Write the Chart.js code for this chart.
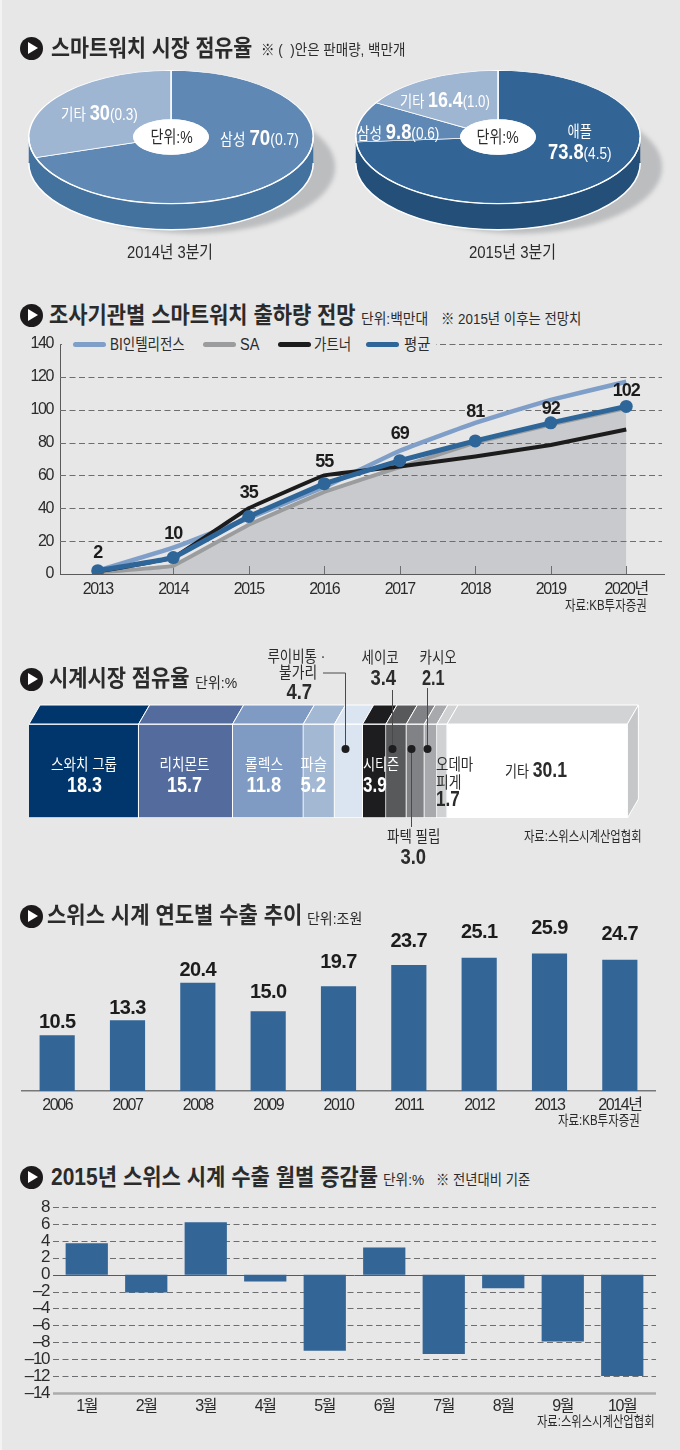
<!DOCTYPE html>
<html lang="ko">
<head>
<meta charset="utf-8">
<title>스마트워치 · 시계 시장</title>
<script src="https://cdn.jsdelivr.net/npm/chart.js@4/dist/chart.umd.min.js"></script>
<style>
html, body { margin: 0; padding: 0; background: #e7e7e7; }
#page { position: relative; width: 680px; height: 1450px; overflow: hidden; background: #e7e7e7; }
#page canvas { position: absolute; }
.txt { position: absolute; white-space: nowrap; line-height: 1; color: #2b2b2b;
       font-family: "Liberation Sans", "Noto Sans CJK KR", sans-serif; }
.icon { position: absolute; width: 23px; height: 23px; border-radius: 50%; background: #1c1a1b; }
.icon:after { content: ""; position: absolute; left: 8px; top: 5px; border-left: 10px solid #fff;
              border-top: 6.5px solid transparent; border-bottom: 6.5px solid transparent; }
.swatch { position: absolute; height: 5px; width: 33px; border-radius: 3px; }
</style>
</head>
<body>
<div id="page">
  <div style="position:absolute;left:0;top:0;width:2px;height:1450px;background:#f3f3f3"></div>
  <canvas id="pie14" width="340" height="300" style="left:21px;top:-13px"></canvas>
  <canvas id="pie15" width="340" height="300" style="left:348px;top:-13px"></canvas>
  <canvas id="lineChart" width="680" height="270" style="left:0;top:330px"></canvas>
  <canvas id="shareChart" width="680" height="200" style="left:0;top:650px"></canvas>
  <canvas id="exportChart" width="680" height="215" style="left:0;top:900px"></canvas>
  <canvas id="monthChart" width="680" height="220" style="left:0;top:1195px"></canvas>
</div>
<script>
// pie charts
var pie14Names = ['삼성', '기타'];
var pie14Share = [70, 30];
var pie14Sales = [0.7, 0.3];
var pie15Names = ['애플', '삼성', '기타'];
var pie15Share = [73.8, 9.8, 16.4];
var pie15Sales = [4.5, 0.6, 1.0];

// smartwatch shipments
var lineYears = ['2013', '2014', '2015', '2016', '2017', '2018', '2019', '2020년'];
var lineNames = ['BI인텔리전스', 'SA', '가트너', '평균'];
var lineBI = [2, 16, 34, 53, 75, 92, 106, 117];
var lineSA = [1, 5, 30, 50, 65, 80, 91, 101];
var lineGartner = [1.5, 10, 40, 60, 65.5, 71.5, 78.5, 88];
var lineAvg = [2, 10, 35, 55, 69, 81, 92, 102];

// watch market share
var shareNames = ['스와치 그룹', '리치몬트', '롤렉스', '파슬', '루이비통·불가리', '시티즌', '세이코', '파텍 필립', '카시오', '오데마 피게', '기타'];
var shareValues = [18.3, 15.7, 11.8, 5.2, 4.7, 3.9, 3.4, 3.0, 2.1, 1.7, 30.1];

// swiss export by year
var exportYears = ['2006', '2007', '2008', '2009', '2010', '2011', '2012', '2013', '2014년'];
var exportValues = [10.5, 13.3, 20.4, 15.0, 19.7, 23.7, 25.1, 25.9, 24.7];

// swiss export change by month
var monthNames = ['1월', '2월', '3월', '4월', '5월', '6월', '7월', '8월', '9월', '10월'];
var monthValues = [3.7, -2.1, 6.2, -0.8, -9.0, 3.2, -9.4, -1.6, -7.9, -12.0];

var page = document.getElementById('page');
var tickFamily = '"Liberation Sans", "Noto Sans CJK KR", sans-serif';
var barBlue = '#336597';
var tickColor = '#2b2b2b';

Chart.defaults.animation = false;
Chart.defaults.responsive = false;
Chart.defaults.devicePixelRatio = 1;
Chart.defaults.plugins.legend.display = false;
Chart.defaults.plugins.tooltip.enabled = false;

// opts: w = width to squeeze the text into, align, bold, color
function putText(html, x, y, size, opts) {
    opts = opts || {};
    var el = document.createElement('div');
    el.className = 'txt';
    el.innerHTML = html;
    el.style.fontSize = size + 'px';
    if (opts.bold) el.style.fontWeight = '700';
    if (opts.color) el.style.color = opts.color;
    page.appendChild(el);
    var realW = el.offsetWidth;
    var align = opts.align || 'left';
    var left = x;
    if (align == 'center') left = x - realW / 2;
    if (align == 'right') left = x - realW;
    el.style.left = left + 'px';
    el.style.top = y + 'px';
    el.style.transformOrigin = align + ' center';
    var sx = opts.w ? opts.w / realW : 1;
    el.style.transform = 'translateY(-50%) scaleX(' + sx + ')';
    return el;
}

function putIcon(cx, cy) {
    var el = document.createElement('div');
    el.className = 'icon';
    el.style.left = (cx - 11.5) + 'px';
    el.style.top = (cy - 11.5) + 'px';
    page.appendChild(el);
}

function big(v) { return '<b style="font-size:1.35em">' + v + '</b>'; }

// ---------- 3D pies ----------
function pie3d(sideColor) {
    var squash = 0.4685, depth = 26;
    return {
        id: 'pie3d',
        beforeDatasetsDraw: function (chart) {
            var arc = chart.getDatasetMeta(0).data[0];
            var ctx = chart.ctx, cx = arc.x, cy = arc.y, R = arc.outerRadius, ry = R * squash;
            ctx.save();
            ctx.filter = 'blur(2px)';
            ctx.fillStyle = '#bcbdbf';
            ctx.beginPath();
            ctx.ellipse(cx + 22, cy + 30, R, ry, 0, 0, Math.PI * 2);
            ctx.fill();
            ctx.restore();
            ctx.fillStyle = sideColor;
            ctx.beginPath();
            ctx.ellipse(cx, cy + depth, R, ry, 0, 0, Math.PI * 2);
            ctx.fill();
            ctx.fillRect(cx - R, cy, R * 2, depth);
            ctx.strokeStyle = '#fff';
            ctx.lineWidth = 1.5;
            ctx.beginPath();
            ctx.ellipse(cx, cy + depth, R, ry, 0, 0, Math.PI);
            ctx.stroke();
            ctx.save();
            ctx.translate(cx, cy);
            ctx.scale(1, squash);
            ctx.translate(-cx, -cy);
        },
        afterDatasetsDraw: function (chart) {
            var arc = chart.getDatasetMeta(0).data[0];
            var ctx = chart.ctx;
            ctx.fillStyle = '#fff';
            ctx.beginPath();
            ctx.arc(arc.x, arc.y, arc.innerRadius + 1, 0, Math.PI * 2);
            ctx.fill();
            ctx.restore();
            ctx.strokeStyle = '#fff';
            ctx.lineWidth = 1.3;
            ctx.beginPath();
            ctx.ellipse(arc.x, arc.y, arc.outerRadius, arc.outerRadius * squash, 0, 0, Math.PI);
            ctx.stroke();
        }
    };
}

function makePie(id, names, values, colors, sideColor) {
    new Chart(document.getElementById(id), {
        type: 'doughnut',
        data: { labels: names, datasets: [{ data: values, backgroundColor: colors, borderColor: '#fff', borderWidth: 1.5, clip: false }] },
        options: { cutout: '26%', layout: { padding: { left: 7, right: 47, top: 7, bottom: 7 } } },
        plugins: [pie3d(sideColor)]
    });
}
makePie('pie14', pie14Names, pie14Share, ['#5f88b4', '#9fb6d3'], '#43729f');
makePie('pie15', pie15Names, pie15Share, ['#326596', '#5f88b4', '#9fb6d3'], '#234f78');

// ---------- helpers for the axis charts ----------
// the original axis font is condensed, tighten the tick text the library draws
var tightTicks = {
    id: 'tightTicks',
    beforeDraw: function (chart) { chart.ctx.letterSpacing = '-1.4px'; }
};

// fixed axis width, and no extra room for the half height of the end labels
function fixedYAxis(width) {
    return function (s) {
        s.width = width;
        s.paddingTop = 0;
        s.paddingBottom = 0;
    };
}

function dashGrid(x0, x1, heavyValue) {
    return {
        id: 'dashGrid',
        beforeDatasetsDraw: function (chart) {
            var ctx = chart.ctx, yScale = chart.scales.y;
            ctx.save();
            yScale.ticks.forEach(function (t) {
                var y = Math.round(yScale.getPixelForValue(t.value)) + 0.5;
                ctx.beginPath();
                ctx.lineWidth = 1;
                ctx.setLineDash([6, 3.5]);
                ctx.strokeStyle = '#6d6e70';
                if (t.value === 0) {
                    ctx.setLineDash([]);
                    ctx.strokeStyle = '#5a5a5a';
                }
                if (t.value === heavyValue) {
                    ctx.setLineDash([]);
                    ctx.lineWidth = 2.5;
                    ctx.strokeStyle = '#ababab';
                }
                ctx.moveTo(x0, y);
                ctx.lineTo(x1, y);
                ctx.stroke();
            });
            ctx.restore();
        }
    };
}

// value labels above the marks, offsets are px from the mark to the text centre
function valueLabels(datasetIndex, texts, offsets, font, spacing) {
    return {
        id: 'valueLabels',
        afterDatasetsDraw: function (chart) {
            var ctx = chart.ctx;
            ctx.save();
            ctx.font = font;
            ctx.letterSpacing = spacing;
            ctx.fillStyle = '#1c1c1c';
            ctx.textAlign = 'center';
            ctx.textBaseline = 'middle';
            chart.getDatasetMeta(datasetIndex).data.forEach(function (el, i) {
                ctx.fillText(texts[i], el.x, el.y - offsets[i]);
            });
            ctx.restore();
        }
    };
}

// ---------- shipments line chart ----------
var baseTicks = {
    id: 'baseTicks',
    beforeDatasetsDraw: function (chart) {
        var ctx = chart.ctx, x = chart.scales.x, bottom = chart.chartArea.bottom;
        ctx.save();
        ctx.strokeStyle = '#6d6e70';
        ctx.lineWidth = 1;
        lineYears.forEach(function (y, i) {
            if (i == 0) return;
            var px = Math.round(x.getPixelForValue(i)) + 0.5;
            ctx.beginPath();
            ctx.moveTo(px, bottom - 8);
            ctx.lineTo(px, bottom);
            ctx.stroke();
        });
        ctx.restore();
    }
};

var lineColors = ['#7f9fc9', '#9b9c9e', '#1d1c1d', '#2f6699'];
new Chart(document.getElementById('lineChart'), {
    type: 'line',
    data: {
        labels: lineYears,
        datasets: [
            { label: lineNames[0], data: lineBI, borderColor: lineColors[0], borderWidth: 4.5, pointRadius: 0, tension: 0.1, order: 3 },
            { label: lineNames[1], data: lineSA, borderColor: lineColors[1], borderWidth: 4, pointRadius: 0, tension: 0.05, order: 2, fill: 'origin', backgroundColor: '#c9cacd' },
            { label: lineNames[2], data: lineGartner, borderColor: lineColors[2], borderWidth: 4, pointRadius: 0, tension: 0.05, order: 1 },
            { label: lineNames[3], data: lineAvg, borderColor: lineColors[3], borderWidth: 5, pointRadius: 6.5, pointBackgroundColor: lineColors[3], pointBorderWidth: 0, tension: 0.05, order: 0 }
        ]
    },
    options: {
        layout: { padding: { top: 14, right: 16 } },
        plugins: { filler: { drawTime: 'beforeDatasetsDraw' } },
        scales: {
            x: {
                offset: true,
                afterFit: function (s) { s.height = 26; },
                grid: { display: false, drawTicks: false },
                border: { display: true, color: '#5a5a5a' },
                ticks: { color: tickColor, font: { family: tickFamily, size: 16 }, padding: 6, maxRotation: 0, autoSkip: false }
            },
            y: {
                min: 0, max: 140,
                afterFit: fixedYAxis(60),
                grid: { display: false, drawTicks: false },
                border: { display: true, color: '#5a5a5a' },
                ticks: { stepSize: 20, color: tickColor, font: { family: tickFamily, size: 16 }, padding: 7 }
            }
        }
    },
    plugins: [tightTicks, dashGrid(60, 662), baseTicks, valueLabels(3, lineAvg, [18, 24, 23, 22, 27, 29, 14, 15], 'bold 18px ' + tickFamily, '-1px')]
});

// ---------- share bar ----------
var shareColors = ['#00366b', '#536c9d', '#7f9ac3', '#a2b8d3', '#dbe4f1', '#1d1c1e', '#58595b', '#808285', '#a7a9ac', '#cfd1d2', '#ffffff'];
var shareTops = ['#00366b', '#536c9d', '#7f9ac3', '#a2b8d3', '#dbe4f1', '#1d1c1e', '#58595b', '#808285', '#a7a9ac', '#cfd1d2', '#d1d3d4'];
var faceDx = 11, faceDy = 19;

var shareFaces = {
    id: 'shareFaces',
    afterDatasetsDraw: function (chart) {
        var ctx = chart.ctx;
        ctx.save();
        ctx.strokeStyle = '#fff';
        ctx.lineWidth = 1;
        shareValues.forEach(function (v, i) {
            var bar = chart.getDatasetMeta(i).data[0];
            var x0 = bar.base, x1 = bar.x, top = chart.chartArea.top;
            ctx.fillStyle = shareTops[i];
            ctx.beginPath();
            ctx.moveTo(x0, top);
            ctx.lineTo(x0 + faceDx, top - faceDy);
            ctx.lineTo(x1 + faceDx, top - faceDy);
            ctx.lineTo(x1, top);
            ctx.closePath();
            ctx.fill();
            ctx.stroke();
        });
        // right side of the block
        var last = chart.getDatasetMeta(shareValues.length - 1).data[0];
        var area = chart.chartArea;
        ctx.fillStyle = '#c5c7c9';
        ctx.beginPath();
        ctx.moveTo(last.x, area.top);
        ctx.lineTo(last.x + faceDx, area.top - faceDy);
        ctx.lineTo(last.x + faceDx, area.bottom - faceDy);
        ctx.lineTo(last.x, area.bottom);
        ctx.closePath();
        ctx.fill();
        ctx.stroke();
    }
};

// leader lines: which segment, where the line ends and an optional elbow
var leaders = [
    { index: 4, dotY: 99, endY: 23, elbowX: 323 },
    { index: 6, dotY: 99, endY: 40 },
    { index: 7, dotY: 99, endY: 177 },
    { index: 8, dotY: 99, endY: 38 }
];
var shareLeaders = {
    id: 'shareLeaders',
    afterDatasetsDraw: function (chart) {
        var ctx = chart.ctx;
        ctx.save();
        leaders.forEach(function (l) {
            var bar = chart.getDatasetMeta(l.index).data[0];
            var x = Math.round((bar.base + bar.x) / 2 - 4) + 0.5;
            ctx.strokeStyle = '#4a4a4a';
            ctx.lineWidth = 1;
            ctx.beginPath();
            ctx.moveTo(x, l.dotY);
            ctx.lineTo(x, l.endY);
            if (l.elbowX) ctx.lineTo(l.elbowX, l.endY);
            ctx.stroke();
            ctx.fillStyle = '#1d1c1e';
            ctx.beginPath();
            ctx.arc(x, l.dotY, 4, 0, Math.PI * 2);
            ctx.fill();
        });
        ctx.restore();
    }
};

new Chart(document.getElementById('shareChart'), {
    type: 'bar',
    data: {
        labels: ['점유율'],
        datasets: shareValues.map(function (v, i) {
            return { label: shareNames[i], data: [v], backgroundColor: shareColors[i], borderColor: '#fff', borderWidth: 1, barPercentage: 1, categoryPercentage: 1 };
        })
    },
    options: {
        indexAxis: 'y',
        layout: { padding: { left: 29, right: 52, top: 74, bottom: 32 } },
        scales: {
            x: { stacked: true, min: 0, max: 100, display: false },
            y: { stacked: true, display: false }
        }
    },
    plugins: [shareFaces, shareLeaders]
});

// ---------- exports by year ----------
new Chart(document.getElementById('exportChart'), {
    type: 'bar',
    data: { labels: exportYears, datasets: [{ data: exportValues, backgroundColor: barBlue, barPercentage: 0.5, categoryPercentage: 1 }] },
    options: {
        layout: { padding: { left: 22, right: 25, top: 21 } },
        scales: {
            x: {
                afterFit: function (s) { s.height = 24; },
                grid: { display: false, drawTicks: false },
                border: { display: true, color: '#77787a', width: 1.5 },
                ticks: { color: tickColor, font: { family: tickFamily, size: 16 }, padding: 5, maxRotation: 0, autoSkip: false }
            },
            y: { min: 0, max: 32, display: false }
        }
    },
    plugins: [tightTicks, valueLabels(0, exportValues.map(function (v) { return v.toFixed(1); }), [13, 12, 12, 19, 24, 24, 25, 25, 25], 'bold 20px ' + tickFamily, '-0.6px')]
});

// ---------- monthly change ----------
new Chart(document.getElementById('monthChart'), {
    type: 'bar',
    data: { labels: monthNames, datasets: [{ data: monthValues, backgroundColor: barBlue, barPercentage: 0.71, categoryPercentage: 1 }] },
    options: {
        layout: { padding: { right: 28, top: 12 } },
        scales: {
            x: {
                position: 'bottom',
                afterFit: function (s) { s.height = 22; },
                grid: { display: false, drawTicks: false },
                border: { display: false },
                ticks: { color: tickColor, font: { family: tickFamily, size: 16 }, padding: 4, maxRotation: 0, autoSkip: false }
            },
            y: {
                min: -14, max: 8,
                afterFit: fixedYAxis(57),
                grid: { display: false, drawTicks: false },
                border: { display: false },
                ticks: {
                    stepSize: 2, autoSkip: false, color: tickColor, font: { family: tickFamily, size: 17 }, padding: 8,
                    callback: function (v) { return String(v).replace('-', '–'); }
                }
            }
        }
    },
    plugins: [tightTicks, dashGrid(53, 656, -14)]
});

// ---------- titles and notes ----------
putIcon(31, 48);
putText('스마트워치 시장 점유율', 51, 48, 23, { bold: true, w: 201 });
putText('※ (&nbsp;&nbsp;)안은 판매량, 백만개', 261, 49, 15, { w: 144 });

putIcon(31, 315);
putText('조사기관별 스마트워치 출하량 전망', 48.5, 315, 23, { bold: true, w: 307 });
putText('단위:백만대', 361, 318, 15, { w: 67 });
putText('※ 2015년 이후는 전망치', 441, 318, 15, { w: 140 });

putIcon(31, 679);
putText('시계시장 점유율', 48.5, 678, 23, { bold: true, w: 141 });
putText('단위:%', 195, 682, 15, { w: 42 });

putIcon(31, 916);
putText('스위스 시계 연도별 수출 추이', 46.5, 915, 23, { bold: true, w: 255 });
putText('단위:조원', 307, 918, 15, { w: 55 });

putIcon(31, 1177);
putText('2015년 스위스 시계 수출 월별 증감률', 51, 1177, 23, { bold: true, w: 327 });
putText('단위:%', 383, 1179, 15, { w: 41 });
putText('※ 전년대비 기준', 436, 1179, 15, { w: 94 });

// ---------- pie labels ----------
putText(pie14Names[1] + ' ' + big(pie14Share[1]) + '(' + pie14Sales[1].toFixed(1) + ')', 61, 113, 16, { color: '#fff', w: 77 });
putText(pie14Names[0] + ' ' + big(pie14Share[0]) + '(' + pie14Sales[0].toFixed(1) + ')', 220, 138, 16, { color: '#fff', w: 79 });
putText('단위:%', 171, 137, 17, { align: 'center', w: 42 });
putText('2014년 3분기', 126.5, 252, 17, { w: 86 });

putText(pie15Names[2] + ' ' + big(pie15Share[2].toFixed(1)) + '(' + pie15Sales[2].toFixed(1) + ')', 400, 100, 16, { color: '#fff', w: 90 });
putText(pie15Names[1] + ' ' + big(pie15Share[1].toFixed(1)) + '(' + pie15Sales[1].toFixed(1) + ')', 356.5, 132, 16, { color: '#fff', w: 82.5 });
putText(pie15Names[0], 579, 132, 16, { align: 'center', color: '#fff', w: 24 });
putText(big(pie15Share[0].toFixed(1)) + '(' + pie15Sales[0].toFixed(1) + ')', 548, 152, 16, { color: '#fff', w: 63.5 });
putText('단위:%', 497, 137, 17, { align: 'center', w: 42 });
putText('2015년 3분기', 469, 252, 17, { w: 87 });

// ---------- line legend, sits on top of the 140 grid line ----------
var legendBox = document.createElement('div');
legendBox.style.cssText = 'position:absolute;left:62px;top:336px;width:374px;height:17px;background:#e7e7e7';
page.appendChild(legendBox);
var legendX = [73, 203, 278, 366];
var legendTextX = [110, 240, 314, 404];
var legendTextW = [75, 19, 37, 26];
lineNames.forEach(function (name, i) {
    var sw = document.createElement('div');
    sw.className = 'swatch';
    sw.style.left = legendX[i] + 'px';
    sw.style.top = '342px';
    sw.style.background = lineColors[i];
    page.appendChild(sw);
    putText(name, legendTextX[i], 345, 16, { w: legendTextW[i] });
});
putText('자료:KB투자증권', 647, 605, 14, { align: 'right', w: 82 });

// ---------- share labels ----------
function shareLabel(i, centerX, nameW, numW, color) {
    putText(shareNames[i], centerX, 765, 16, { align: 'center', w: nameW, color: color });
    putText(shareValues[i].toFixed(1), centerX, 785, 22, { align: 'center', bold: true, w: numW, color: color });
}
shareLabel(0, 84, 66, 35, '#fff');
shareLabel(1, 184, 50, 35, '#fff');
shareLabel(2, 264, 38, 35, '#fff');
shareLabel(3, 313, 26, 26, '#fff');
putText(shareNames[5], 363, 765, 16, { w: 36, color: '#fff' });
putText(shareValues[5].toFixed(1), 363, 785, 22, { bold: true, w: 24, color: '#fff' });

putText('루이비통 ·', 296, 657, 16, { align: 'center', w: 58 });
putText('불가리', 298, 673, 16, { align: 'center', w: 38 });
putText(shareValues[4].toFixed(1), 299, 692, 22, { align: 'center', bold: true, w: 26 });
putText(shareNames[6], 380, 658, 16, { align: 'center', w: 37 });
putText(shareValues[6].toFixed(1), 383, 678, 22, { align: 'center', bold: true, w: 26 });
putText(shareNames[8], 438, 658, 16, { align: 'center', w: 37 });
putText(shareValues[8].toFixed(1), 433, 678, 22, { align: 'center', bold: true, w: 23 });
putText(shareNames[7], 413, 837, 16, { align: 'center', w: 53 });
putText(shareValues[7].toFixed(1), 413, 857, 22, { align: 'center', bold: true, w: 26 });
putText('오데마', 436, 765, 16, { w: 37 });
putText('피게', 436, 783, 16, { w: 25 });
putText(shareValues[9].toFixed(1), 436, 799, 22, { bold: true, w: 24 });
putText(shareNames[10] + ' ' + big(shareValues[10].toFixed(1)), 505, 770, 16, { w: 62 });
putText('자료:스위스시계산업협회', 642, 836, 14, { align: 'right', w: 118 });

putText('자료:KB투자증권', 640, 1120, 14, { align: 'right', w: 82 });
putText('자료:스위스시계산업협회', 655, 1421, 14, { align: 'right', w: 118 });
</script>
</body>
</html>
